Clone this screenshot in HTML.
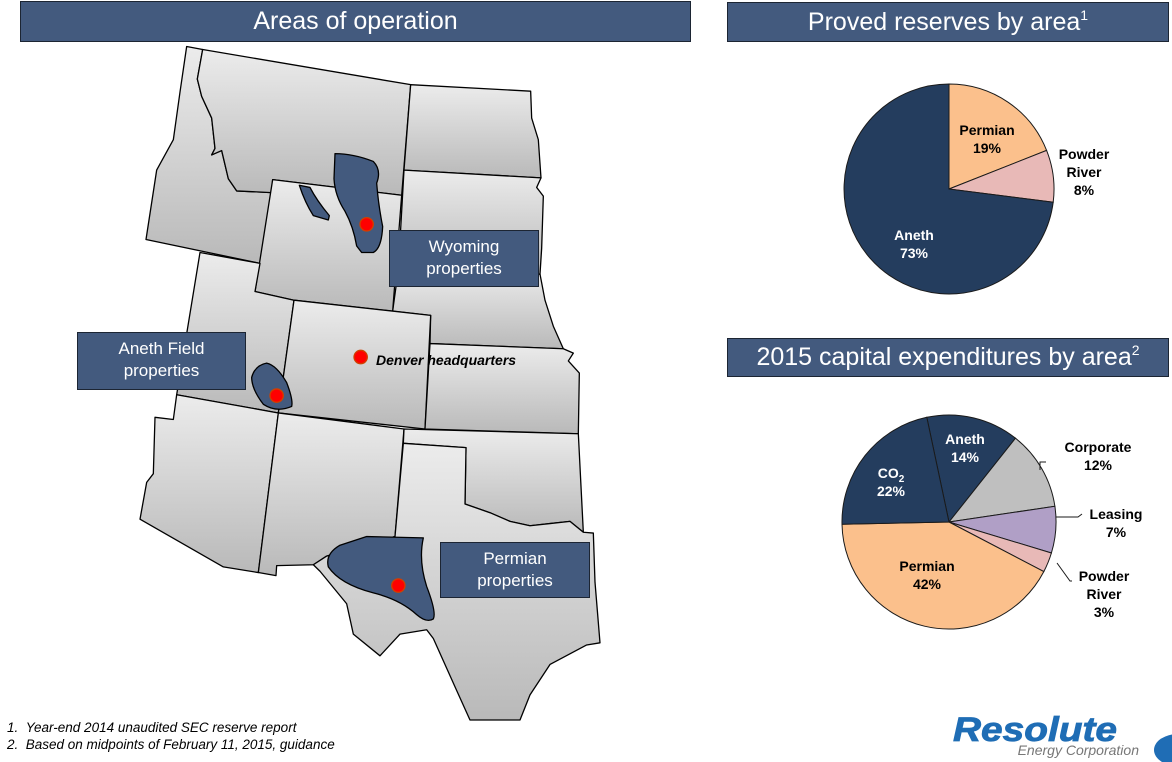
<!DOCTYPE html>
<html><head><meta charset="utf-8"><style>
body{margin:0;width:1172px;height:762px;background:#fff;overflow:hidden;position:relative;font-family:"Liberation Sans",sans-serif}
.hd{position:absolute;background:#435a7e;border:1px solid #1c2533;color:#fff;text-align:center;font-size:25px;box-sizing:border-box}
.box{position:absolute;background:#435a7e;border:1px solid #1c2533;color:#fff;text-align:center;font-size:17px;line-height:22px;box-sizing:border-box;padding-top:5px}
.fn{position:absolute;left:7px;font-size:13.5px;font-style:italic;color:#000}
</style></head><body>
<div class="hd" style="left:20px;top:1px;width:671px;height:41px;line-height:39px">Areas of operation</div>
<div class="hd" style="left:727px;top:2px;width:442px;height:40px;line-height:38px">Proved reserves by area<sup style="font-size:14px;vertical-align:10px;line-height:0">1</sup></div>
<div class="hd" style="left:727px;top:338px;width:442px;height:39px;line-height:37px">2015 capital expenditures by area<sup style="font-size:14px;vertical-align:10px;line-height:0">2</sup></div>

<svg style="position:absolute;left:0;top:0" width="1172" height="762">
<defs><linearGradient id="g" x1="0" y1="0" x2="0" y2="1"><stop offset="0" stop-color="#ececec"/><stop offset="1" stop-color="#b9b9b9"/></linearGradient></defs>
<g transform="translate(140,40) scale(0.33333,0.43367)" fill="url(#g)" stroke="#000" stroke-width="1.3" stroke-linejoin="round">
<g vector-effect="non-scaling-stroke">
<polygon vector-effect="non-scaling-stroke" points="140,15 188,22 172,90 185,130 215,180 225,250 215,265 245,255 265,320 290,348 395,352 360,515 18,460 50,300 100,230 120,120"/>
<polygon vector-effect="non-scaling-stroke" points="188,22 812,103 785,358 398,322 395,352 290,348 265,320 245,255 215,265 225,250 215,180 185,130 172,90"/>
<polygon vector-effect="non-scaling-stroke" points="812,103 1172,118 1175,180 1195,230 1203,318 792,300"/>
<polygon vector-effect="non-scaling-stroke" points="792,300 1203,318 1190,340 1210,360 1205,480 1200,540 775,530"/>
<polygon vector-effect="non-scaling-stroke" points="775,530 1200,540 1215,600 1240,660 1270,712 870,700 872,635 758,625"/>
<polygon vector-effect="non-scaling-stroke" points="398,322 785,358 758,625 462,600 345,580"/>
<polygon vector-effect="non-scaling-stroke" points="180,490 360,515 345,580 462,600 415,860 110,818"/>
<polygon vector-effect="non-scaling-stroke" points="462,600 872,635 855,897 415,860"/>
<polygon vector-effect="non-scaling-stroke" points="870,700 1270,712 1300,722 1285,740 1318,768 1315,908 855,897"/>
<polygon vector-effect="non-scaling-stroke" points="110,818 415,860 355,1228 250,1215 0,1105 20,1020 40,1000 45,870 100,875"/>
<polygon vector-effect="non-scaling-stroke" points="415,860 792,897 765,1145 560,1190 520,1210 410,1212 408,1235 355,1228"/>
<polygon vector-effect="non-scaling-stroke" points="792,897 1315,908 1330,1135 1290,1110 1230,1115 1170,1120 1110,1110 1050,1090 975,1070 978,940 790,930"/>
<polygon vector-effect="non-scaling-stroke" points="790,930 978,940 975,1070 1050,1090 1110,1110 1170,1120 1230,1115 1290,1110 1330,1135 1360,1137 1365,1250 1380,1390 1340,1395 1230,1440 1170,1510 1140,1568 990,1568 950,1500 880,1380 860,1360 780,1370 720,1420 640,1370 620,1300 540,1225 520,1210 560,1190 765,1145"/>
</g>
<g fill="#435a7e">
<path vector-effect="non-scaling-stroke" d="M585,262 Q640,262 700,280 Q725,300 710,330 Q715,380 728,430 Q725,480 700,490 L665,490 L650,475 Q640,430 615,395 Q585,360 582,320 Z"/>
<path vector-effect="non-scaling-stroke" d="M478,335 L510,340 Q530,370 568,405 L565,415 L520,405 Q495,375 478,335 Z"/>
<path vector-effect="non-scaling-stroke" d="M380,745 Q410,750 440,790 Q460,830 455,845 Q410,860 370,840 Q335,805 335,778 Q345,750 380,745 Z"/>
<path vector-effect="non-scaling-stroke" d="M680,1145 L850,1148 Q835,1200 860,1260 Q890,1320 880,1335 Q860,1345 830,1325 Q780,1290 700,1275 Q600,1255 565,1215 Q555,1185 600,1165 Z"/>
</g>
<g fill="#ff0000" stroke="#d04000">
<ellipse vector-effect="non-scaling-stroke" cx="680" cy="425" rx="20" ry="15.4"/><ellipse vector-effect="non-scaling-stroke" cx="410" cy="820" rx="20" ry="15.4"/><ellipse vector-effect="non-scaling-stroke" cx="662" cy="731" rx="20" ry="15.4"/><ellipse vector-effect="non-scaling-stroke" cx="775" cy="1258" rx="20" ry="15.4"/>
</g>
</g>
<text x="376" y="365" font-size="14" font-weight="bold" font-style="italic" font-family="Liberation Sans" fill="#000">Denver headquarters</text>

<g stroke="#1a1a1a" stroke-width="1">
<path d="M949,189 L949,84 A105,105 0 0,1 1046.6,150.4 Z" fill="#fbc08c"/>
<path d="M949,189 L1046.6,150.4 A105,105 0 0,1 1053.2,202.2 Z" fill="#e8b9b7"/>
<path d="M949,189 L1053.2,202.2 A105,105 0 1,1 949,84 Z" fill="#243d5e"/>
</g>
<g font-family="Liberation Sans" font-weight="bold" font-size="14" text-anchor="middle">
<text x="987" y="135" fill="#000">Permian</text><text x="987" y="153" fill="#000">19%</text>
<text x="1084" y="159" fill="#000">Powder</text><text x="1084" y="177" fill="#000">River</text><text x="1084" y="195" fill="#000">8%</text>
<text x="914" y="240" fill="#fff">Aneth</text><text x="914" y="258" fill="#fff">73%</text>
</g>

<g stroke="#1a1a1a" stroke-width="1">
<path d="M949,522 L926.8,417.3 A107,107 0 0,1 1015.5,438.2 Z" fill="#243d5e"/>
<path d="M949,522 L1015.5,438.2 A107,107 0 0,1 1054.9,506.3 Z" fill="#bfbfbf"/>
<path d="M949,522 L1054.9,506.3 A107,107 0 0,1 1051.4,553.0 Z" fill="#b09fc6"/>
<path d="M949,522 L1051.4,553.0 A107,107 0 0,1 1043.8,571.6 Z" fill="#e8b9b7"/>
<path d="M949,522 L1043.8,571.6 A107,107 0 0,1 842.0,524.2 Z" fill="#fbc08c"/>
<path d="M949,522 L842.0,524.2 A107,107 0 0,1 926.8,417.3 Z" fill="#243d5e"/>
<path d="M1046,462 L1040,462 L1040,470" fill="none"/>
<path d="M1056,517 L1078,517 L1082,514" fill="none"/>
<path d="M1057,563 L1070,581 L1072,581" fill="none"/>
</g>
<g font-family="Liberation Sans" font-weight="bold" font-size="14" text-anchor="middle">
<text x="965" y="444" fill="#fff">Aneth</text><text x="965" y="462" fill="#fff">14%</text>
<text x="891" y="478" fill="#fff">CO<tspan font-size="10" dy="4">2</tspan></text><text x="891" y="496" fill="#fff">22%</text>
<text x="1098" y="452" fill="#000">Corporate</text><text x="1098" y="470" fill="#000">12%</text>
<text x="1116" y="519" fill="#000">Leasing</text><text x="1116" y="537" fill="#000">7%</text>
<text x="1104" y="581" fill="#000">Powder</text><text x="1104" y="599" fill="#000">River</text><text x="1104" y="617" fill="#000">3%</text>
<text x="927" y="571" fill="#000">Permian</text><text x="927" y="589" fill="#000">42%</text>
</g>

<text x="953" y="741" font-family="Liberation Sans" font-weight="bold" font-style="italic" font-size="34" fill="#1f6db5" textLength="164" lengthAdjust="spacingAndGlyphs" stroke="#1f6db5" stroke-width="0.8">Resolute</text>
<text x="1139" y="755" text-anchor="end" font-family="Liberation Sans" font-style="italic" font-size="14" fill="#777">Energy Corporation</text>
<ellipse cx="1178" cy="750" rx="24" ry="16" fill="#1f6db5"/>
</svg>

<div class="box" style="left:389px;top:230px;width:150px;height:57px">Wyoming<br>properties</div>
<div class="box" style="left:77px;top:332px;width:169px;height:58px">Aneth Field<br>properties</div>
<div class="box" style="left:440px;top:542px;width:150px;height:56px">Permian<br>properties</div>

<div class="fn" style="top:720px">1.&nbsp;&nbsp;Year-end 2014 unaudited SEC reserve report</div>
<div class="fn" style="top:737px">2.&nbsp;&nbsp;Based on midpoints of February 11, 2015, guidance</div>
</body></html>
